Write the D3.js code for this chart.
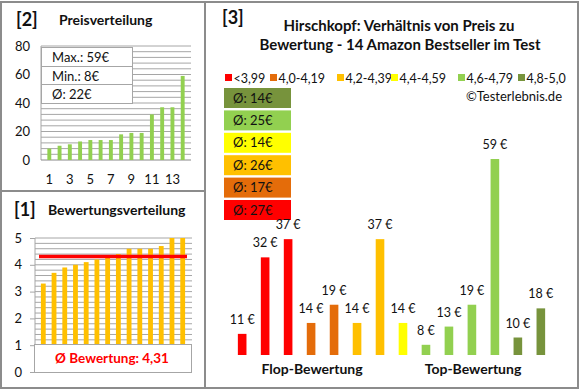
<!DOCTYPE html>
<html><head><meta charset="utf-8">
<script src="https://cdn.jsdelivr.net/npm/d3@7"></script>
<style>
html,body{margin:0;padding:0;background:#fff;}
svg{display:block;font-family:Lato, "Open Sans", sans-serif;}
</style></head>
<body>
<script>
// ---- data ----
const priceTicks = [0, 20, 40, 60, 80];
const ratingTicks = [0, 1, 2, 3, 4, 5];
const productIdx = [1,2,3,4,5,6,7,8,9,10,11,12,13,14];
const pricesSorted = [8,10,11,13,14,14,14,18,19,19,32,37,37,59];
const ratingsSorted = [3.3,3.7,3.9,4.0,4.1,4.2,4.3,4.4,4.6,4.6,4.6,4.7,5.0,5.0];
const avgRatingValue = 4.31;
const avgRating = "4,31";
const statLabels = ["Max.: 59€", "Min.: 8€", "Ø: 22€"];
// products in right chart (ordered by rating)
const prices = [11,32,37,14,19,14,37,14,8,13,19,59,10,18];
const ratingClass = [0,0,0,1,1,2,2,3,4,4,4,4,5,5];
const classLabels = ["<3,99","4,0-4,19","4,2-4,39","4,4-4,59","4,6-4,79","4,8-5,0"];
const classColors = ["#FF0000","#E46C0A","#FFC000","#FFFF00","#92D050","#77933C"];
const classAvg = [27,17,26,14,25,14];

const W = 580, H = 390;
const svg = d3.select("body").append("svg").attr("width", W).attr("height", H);
const grid = "#A6A6A6", frame = "#8C8C8C", ink = "#111";
const FF = "Lato, sans-serif";

// frame
svg.append("rect").attr("x",1).attr("y",2).attr("width",577).attr("height",386)
  .attr("fill","none").attr("stroke",frame).attr("stroke-width",2);
svg.append("line").attr("x1",205).attr("x2",205).attr("y1",2).attr("y2",388).attr("stroke",frame).attr("stroke-width",2);
svg.append("line").attr("x1",1).attr("x2",205).attr("y1",191).attr("y2",191).attr("stroke",frame).attr("stroke-width",2);

// ---------- [2] Preisverteilung ----------
const g2 = svg.append("g");
g2.append("text").attr("x",16).attr("y",26).attr("font-size",18).attr("font-weight","bold").attr("fill",ink).text("[2]");
g2.append("text").attr("x",59).attr("y",25).attr("font-size",14).attr("font-weight","bold").attr("fill",ink).text("Preisverteilung");
const x2 = d3.scaleBand().domain(productIdx).range([41,191]).padding(0.62);
const y2 = d3.scaleLinear().domain([0,80]).range([160,46]);
g2.append("g").selectAll("line").data(d3.range(4,81,4)).join("line")
  .attr("x1",41).attr("x2",191).attr("y1",d=>y2(d)).attr("y2",d=>y2(d)).attr("stroke",grid).attr("stroke-width",1);
g2.append("line").attr("x1",41).attr("x2",41).attr("y1",46).attr("y2",160).attr("stroke",grid);
g2.append("line").attr("x1",41).attr("x2",191).attr("y1",160).attr("y2",160).attr("stroke","#888");
g2.append("g").attr("transform","translate(30,0)")
  .call(d3.axisLeft(y2).tickValues(priceTicks).tickFormat(d3.format("d")).tickSize(0).tickPadding(0))
  .call(g=>g.select(".domain").remove())
  .call(g=>g.selectAll("text").attr("font-size",13).attr("fill",ink).attr("font-family",FF));
g2.append("g").selectAll("rect").data(pricesSorted).join("rect")
  .attr("x",(d,i)=>x2(productIdx[i])).attr("width",x2.bandwidth())
  .attr("y",d=>y2(d)).attr("height",d=>y2(0)-y2(d)).attr("fill","#92D050");
g2.append("g").attr("transform","translate(0,175)")
  .call(d3.axisBottom(x2).tickValues(productIdx.filter(d=>d%2===1)).tickSize(0).tickPadding(0))
  .call(g=>g.select(".domain").remove())
  .call(g=>g.selectAll("text").attr("font-size",13).attr("fill",ink).attr("font-family",FF));
// stats box
g2.append("rect").attr("x",41.5).attr("y",47.5).attr("width",91).attr("height",56).attr("fill","#fff").attr("stroke",grid);
[66.5,84.5].forEach(y=>g2.append("line").attr("x1",41.5).attr("x2",132.5).attr("y1",y).attr("y2",y).attr("stroke",grid));
g2.append("g").selectAll("text").data(statLabels).join("text")
  .attr("x",52).attr("y",(d,i)=>[62,81,99][i]).attr("font-size",13).attr("fill",ink).text(d=>d);

// ---------- [1] Bewertungsverteilung ----------
const g1 = svg.append("g");
g1.append("text").attr("x",14).attr("y",216).attr("font-size",18).attr("font-weight","bold").attr("fill",ink).text("[1]");
g1.append("text").attr("x",48).attr("y",215).attr("font-size",14).attr("font-weight","bold").attr("fill",ink).text("Bewertungsverteilung");
const x1 = d3.scaleBand().domain(productIdx).range([35,191]).padding(0.55);
const y1 = d3.scaleLinear().domain([0,5]).range([372,238]);
g1.append("g").selectAll("line").data(d3.range(1,26).map(d=>d/5)).join("line")
  .attr("x1",35).attr("x2",192).attr("y1",d=>y1(d)).attr("y2",d=>y1(d)).attr("stroke",grid).attr("stroke-width",1);
g1.append("line").attr("x1",35).attr("x2",35).attr("y1",238).attr("y2",372).attr("stroke",grid);
g1.append("g").attr("transform","translate(35,0)")
  .call(d3.axisLeft(y1).tickValues(ratingTicks).tickFormat(d3.format("d")).tickSize(5).tickPadding(8))
  .call(g=>g.select(".domain").remove())
  .call(g=>g.selectAll("line").attr("stroke",grid))
  .call(g=>g.selectAll("text").attr("font-size",13).attr("fill",ink).attr("font-family",FF));
g1.append("g").selectAll("rect").data(ratingsSorted).join("rect")
  .attr("x",(d,i)=>x1(productIdx[i])).attr("width",x1.bandwidth())
  .attr("y",d=>y1(d)).attr("height",d=>y1(0)-y1(d)).attr("fill","#FFC000");
g1.append("line").attr("x1",39).attr("x2",187).attr("y1",y1(avgRatingValue)).attr("y2",y1(avgRatingValue)).attr("stroke","#FF0000").attr("stroke-width",3.5);
g1.append("rect").attr("x",34.5).attr("y",344.5).attr("width",157).attr("height",28).attr("fill","#fff").attr("stroke",grid);
g1.append("text").attr("x",112).attr("y",363).attr("text-anchor","middle").attr("font-size",13.5).attr("font-weight","bold").attr("fill","#FF0000").text("Ø Bewertung: " + avgRating);

// ---------- [3] Price vs rating ----------
const g3 = svg.append("g");
g3.append("text").attr("x",222).attr("y",24).attr("font-size",18).attr("font-weight","bold").attr("fill",ink).text("[3]");
g3.append("text").attr("x",399).attr("y",31).attr("text-anchor","middle").attr("font-size",15).attr("font-weight","bold").attr("fill",ink).text("Hirschkopf: Verhältnis von Preis zu");
g3.append("text").attr("x",400).attr("y",50).attr("text-anchor","middle").attr("font-size",15).attr("font-weight","bold").attr("fill",ink).text("Bewertung - 14 Amazon Bestseller im Test");
// legend
const legX = [225,270,337,391,458,518];
const leg = g3.append("g").selectAll("g").data(classLabels).join("g").attr("transform",(d,i)=>`translate(${legX[i]},0)`);
leg.append("rect").attr("x",0).attr("y",74).attr("width",7).attr("height",7).attr("fill",(d,i)=>classColors[i]);
leg.append("text").attr("x",8.5).attr("y",82.5).attr("font-size",12.5).attr("fill",ink).text(d=>d);
g3.append("text").attr("x",562).attr("y",101).attr("text-anchor","end").attr("font-size",13).attr("fill",ink).text("©Testerlebnis.de");
// average boxes (top = best class)
const order = d3.range(classLabels.length).reverse();
const avgG = g3.append("g").selectAll("g").data(order).join("g").attr("transform",(d,i)=>`translate(224,${88+i*22.4})`);
avgG.append("rect").attr("width",67).attr("height",20).attr("fill",d=>classColors[d]);
avgG.append("text").attr("x",9).attr("y",14.5).attr("font-size",13).attr("fill",ink).text(d=>"Ø: " + classAvg[d] + "€");
// bars
const x3 = d3.scaleBand().domain(productIdx).range([223.5,559.5]).padding(0.625);
const y3 = d3.scaleLinear().domain([5.2,59]).range([355,159]);
g3.append("g").selectAll("rect").data(prices).join("rect")
  .attr("x",(d,i)=>x3(productIdx[i])).attr("width",x3.bandwidth())
  .attr("y",d=>y3(d)).attr("height",d=>y3(5.2)-y3(d)).attr("fill",(d,i)=>classColors[ratingClass[i]]);
g3.append("g").selectAll("text").data(prices).join("text")
  .attr("x",(d,i)=>x3(productIdx[i])+x3.bandwidth()/2).attr("y",d=>y3(d)-10)
  .attr("text-anchor","middle").attr("font-size",12.5).attr("fill",ink).text(d=>d + " €");
g3.append("text").attr("x",312).attr("y",374).attr("text-anchor","middle").attr("font-size",14).attr("font-weight","bold").attr("fill",ink).text("Flop-Bewertung");
g3.append("text").attr("x",473).attr("y",374).attr("text-anchor","middle").attr("font-size",14).attr("font-weight","bold").attr("fill",ink).text("Top-Bewertung");
</script>
</body></html>
